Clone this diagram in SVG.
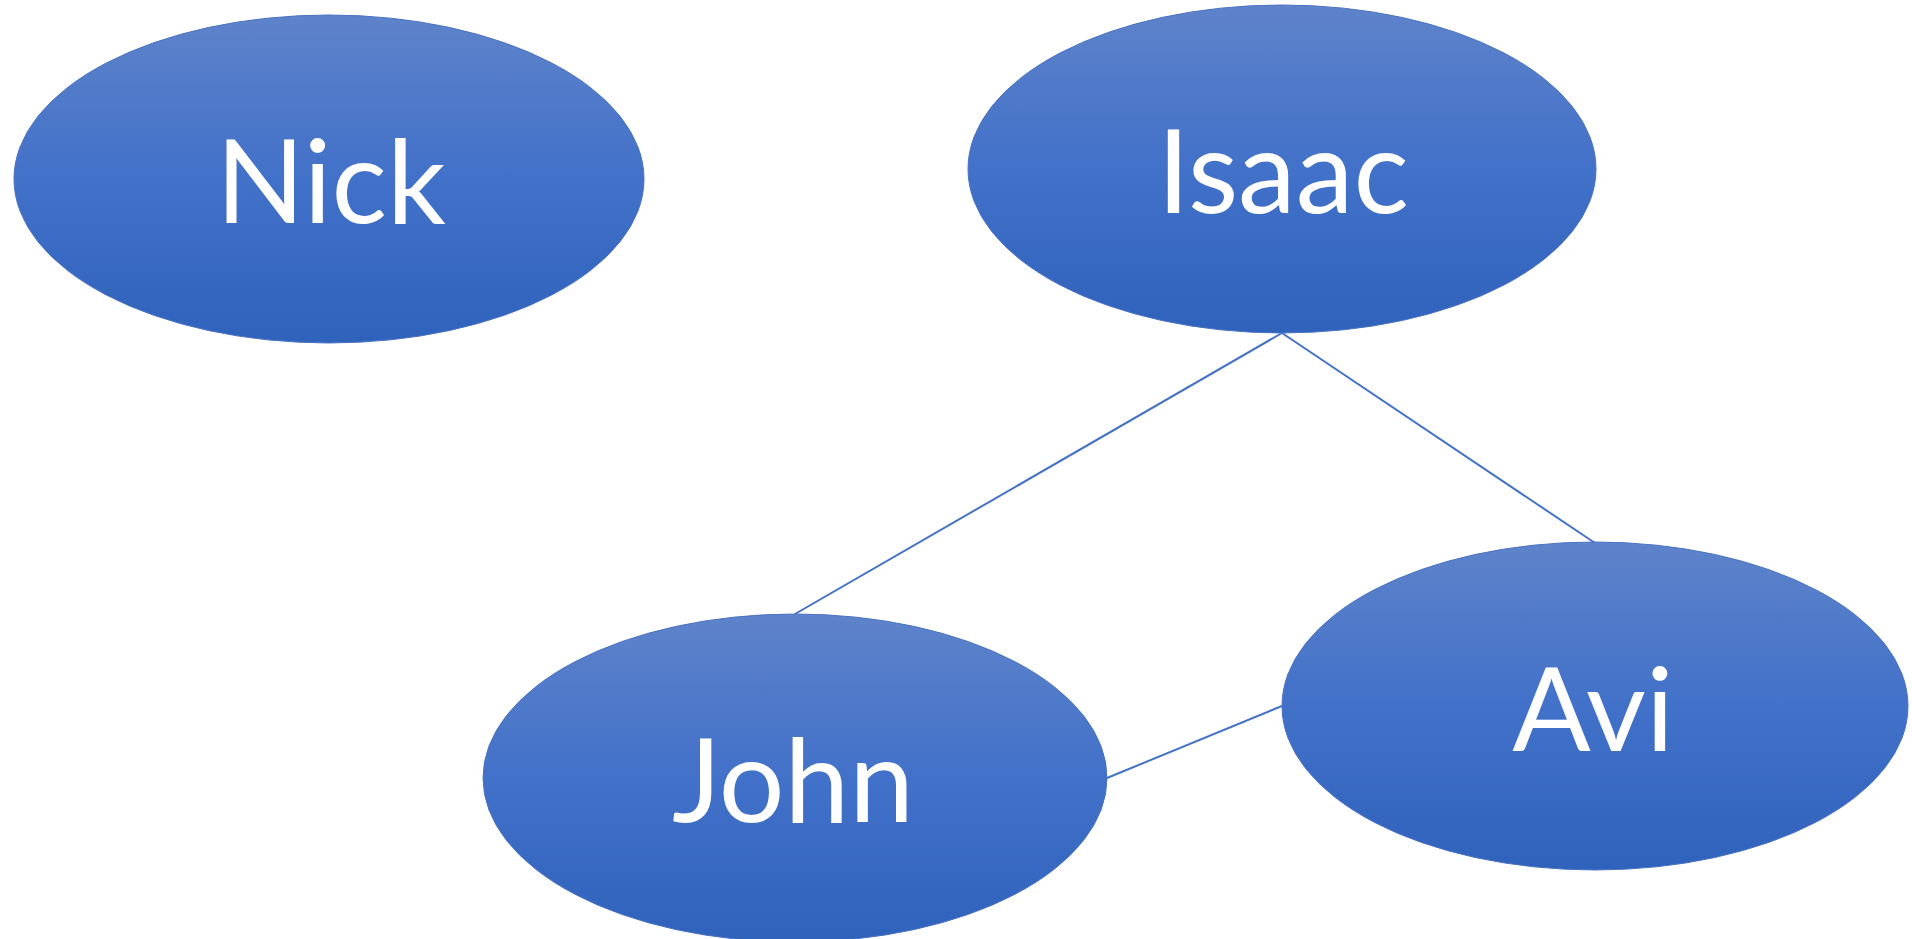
<svg xmlns="http://www.w3.org/2000/svg" width="1912" height="939" viewBox="0 0 1912 939">
  <defs>
    <linearGradient id="g" x1="0" y1="0" x2="0" y2="1">
      <stop offset="0" stop-color="#5E83CA"/>
      <stop offset="0.5" stop-color="#4271C9"/>
      <stop offset="1" stop-color="#2F62BB"/>
    </linearGradient>
    <style>
      .node ellipse { fill: url(#g); stroke: #4A72C2; stroke-width: 1; }
      .node text { fill: #FFFFFF; font-family: Lato, "Open Sans", "Liberation Sans", sans-serif; font-size: 116px; text-anchor: middle; }
      .edge { stroke: #4472C4; stroke-width: 2; fill: none; }
    </style>
  </defs>
  <rect width="1912" height="939" fill="#FFFFFF"/>
  <g id="connectors">
    <line class="edge" x1="1282" y1="333" x2="795" y2="614"/>
    <line class="edge" x1="1282" y1="333" x2="1595" y2="543"/>
    <line class="edge" x1="1107" y1="778" x2="1282" y2="706"/>
  </g>
  <g id="node-nick" class="node">
    <ellipse cx="329" cy="179" rx="315" ry="164"/>
    <text x="331" y="223">Nick</text>
  </g>
  <g id="node-isaac" class="node">
    <ellipse cx="1282" cy="169" rx="314" ry="164"/>
    <text x="1283" y="213">Isaac</text>
  </g>
  <g id="node-john" class="node">
    <ellipse cx="795" cy="778" rx="312" ry="164"/>
    <text x="793" y="822">John</text>
  </g>
  <g id="node-avi" class="node">
    <ellipse cx="1595" cy="706" rx="313" ry="164"/>
    <text x="1593" y="751">Avi</text>
  </g>
</svg>
